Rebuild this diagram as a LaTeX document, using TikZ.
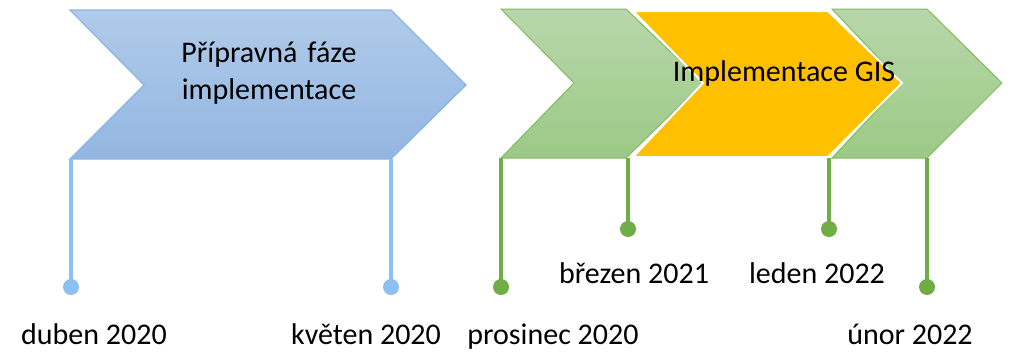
\documentclass[tikz,border=0pt]{standalone}
\usepackage{fontspec}
\setmainfont{Carlito}
\usetikzlibrary{shadings}
\definecolor{blueTop}{HTML}{B0CBEA}
\definecolor{blueBot}{HTML}{93B6E1}
\definecolor{blueLine}{HTML}{8DB4E2}
\definecolor{blueStem}{HTML}{8DC0F2}
\definecolor{greenTop}{HTML}{B8D7AA}
\definecolor{greenBot}{HTML}{9CC987}
\definecolor{greenLine}{HTML}{82BA64}
\definecolor{greenStem}{HTML}{70AD47}
\definecolor{gisOrange}{HTML}{FFC000}
\tikzset{
  bluechev/.style={top color=blueTop, bottom color=blueBot, draw=blueLine, line width=1.2pt, line join=miter},
  greenchev/.style={top color=greenTop, bottom color=greenBot, draw=greenLine, line width=1pt, line join=miter},
  orangechev/.style={fill=gisOrange, draw=white, line width=2pt, line join=miter},
  bluestem/.style={draw=blueStem, line width=4pt},
  greenstem/.style={draw=greenStem, line width=4pt},
  bluedot/.style={circle, fill=blueStem, inner sep=0pt, minimum size=16pt},
  greendot/.style={circle, fill=greenStem, inner sep=0pt, minimum size=16pt},
  lbl/.style={font=\fontsize{30}{37}\selectfont, inner sep=0pt, anchor=base},
}
\begin{document}
\begin{tikzpicture}[x=1pt,y=-1pt]
\useasboundingbox (0,0) rectangle (1015,351);
% chevrons
\path[bluechev] (70,10) -- (391,10) -- (466,85) -- (391,159) -- (70,159) -- (144,85) -- cycle;
\path[greenchev] (501,9) -- (626,9) -- (703,83) -- (626,158) -- (501,158) -- (574,83) -- cycle;
\path[greenchev] (832,9) -- (927,9) -- (1002,83) -- (927,158) -- (832,158) -- (902,83) -- cycle;
\path[orangechev] (633,11) -- (828,11) -- (902,83) -- (828,157) -- (633,157) -- (703,83) -- cycle;
% stem tops
\coordinate (b1) at (71,159);
\coordinate (b2) at (391,159);
\coordinate (g1) at (501,158);
\coordinate (g2) at (628,158);
\coordinate (g3) at (829,158);
\coordinate (g4) at (927,158);
% dots
\node[bluedot] (db1) at (71,287) {};
\node[bluedot] (db2) at (391,287) {};
\node[greendot] (dg1) at (501,287) {};
\node[greendot] (dg2) at (628,229) {};
\node[greendot] (dg3) at (829,229) {};
\node[greendot] (dg4) at (927,287) {};
% stems
\draw[bluestem] (b1) -- (db1.center);
\draw[bluestem] (b2) -- (db2.center);
\draw[greenstem] (g1) -- (dg1.center);
\draw[greenstem] (g2) -- (dg2.center);
\draw[greenstem] (g3) -- (dg3.center);
\draw[greenstem] (g4) -- (dg4.center);
% texts
\node[lbl, text width=250pt, align=center] (prep) at (269,62) {Přípravná fáze\\implementace};
\node[lbl] (gis) at (784,81) {Implementace GIS};
\node[lbl] (t1) at (94,344) {duben 2020};
\node[lbl] (t2) at (366,344) {květen 2020};
\node[lbl] (t3) at (553,344) {prosinec 2020};
\node[lbl] (t4) at (634,283) {březen 2021};
\node[lbl] (t5) at (817,283) {leden 2022};
\node[lbl] (t6) at (910,344) {únor 2022};
\end{tikzpicture}
\end{document}
